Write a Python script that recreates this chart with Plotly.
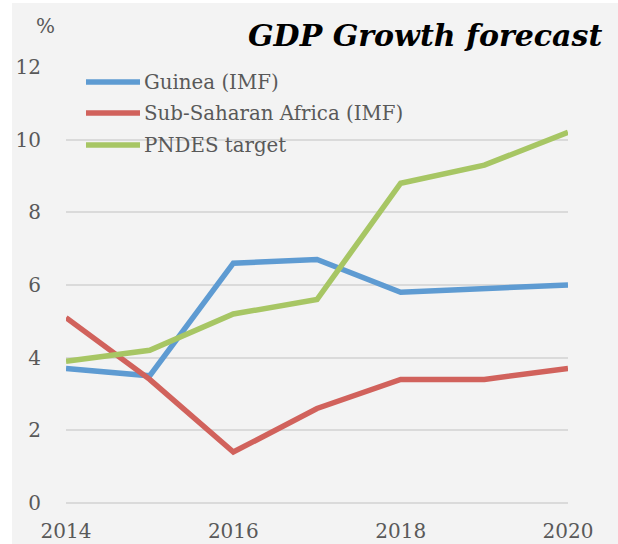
import plotly.graph_objects as go

years = [2014, 2015, 2016, 2017, 2018, 2019, 2020]
guinea = [3.7, 3.5, 6.6, 6.7, 5.8, 5.9, 6.0]
ssa = [5.1, 3.4, 1.4, 2.6, 3.4, 3.4, 3.7]
pndes = [3.9, 4.2, 5.2, 5.6, 8.8, 9.3, 10.2]

names = ["Guinea (IMF)", "Sub-Saharan Africa (IMF)", "PNDES target"]
colors = ["#5e9bd2", "#d1625c", "#a7c664"]
series = [guinea, ssa, pndes]

W, H = 618, 544
L, R, T, B = 66, 50, 67, 40
pw, ph = W - L - R, H - T - B

def px(x):
    return (x - L) / pw

def py(y):
    return (H - B - y) / ph

fig = go.Figure()
for n, c, s in zip(names, colors, series):
    fig.add_trace(go.Scatter(x=years, y=s, mode="lines", name=n,
                             line=dict(color=c, width=5.5), showlegend=False))

font_fam = "DejaVu Serif"
txt = "#595959"

shapes = [dict(type="rect", xref="paper", yref="paper", x0=px(12), x1=px(W + 2),
               y0=py(H + 2), y1=py(3), fillcolor="#f3f3f3", line=dict(width=0), layer="below")]
annotations = []
rows = [82, 113, 145]
for n, c, ry in zip(names, colors, rows):
    shapes.append(dict(type="line", xref="paper", yref="paper", x0=px(86), x1=px(140),
                       y0=py(ry), y1=py(ry), line=dict(color=c, width=5.5)))
    annotations.append(dict(text=n, xref="paper", yref="paper", x=px(142), y=py(ry),
                            xanchor="left", yanchor="middle", showarrow=False,
                            font=dict(family=font_fam, size=19.8, color=txt)))

annotations.append(dict(text="<b><i>GDP Growth forecast</i></b>", xref="paper", yref="paper",
                        x=px(604), y=py(36), xanchor="right", yanchor="middle", showarrow=False,
                        font=dict(family=font_fam, size=30, color="#000000")))
annotations.append(dict(text="%", xref="paper", yref="paper", x=px(45), y=py(26),
                        xanchor="center", yanchor="middle", showarrow=False,
                        font=dict(family=font_fam, size=20, color=txt)))

fig.update_layout(
    width=W, height=H,
    margin=dict(l=L, r=R, t=T, b=B),
    paper_bgcolor="#ffffff",
    plot_bgcolor="rgba(0,0,0,0)",
    shapes=shapes,
    annotations=annotations,
    xaxis=dict(range=[2014, 2020], tickvals=[2014, 2016, 2018, 2020], showgrid=False,
               zeroline=False, showline=False, ticks="outside", ticklen=9,
               tickcolor="rgba(0,0,0,0)", automargin=False,
               tickfont=dict(family=font_fam, size=20, color=txt)),
    yaxis=dict(range=[-0.03, 12.0], tickvals=[0, 2, 4, 6, 8, 10, 12], showgrid=True,
               gridcolor="#dadada", gridwidth=2, zeroline=False, showline=False,
               ticks="outside", ticklen=20, tickcolor="rgba(0,0,0,0)", automargin=False,
               tickfont=dict(family=font_fam, size=20, color=txt)),
)

fig.write_html("out.html", config={"displayModeBar": False},
               post_script="document.body.style.margin='0';document.body.style.overflow='hidden';")
